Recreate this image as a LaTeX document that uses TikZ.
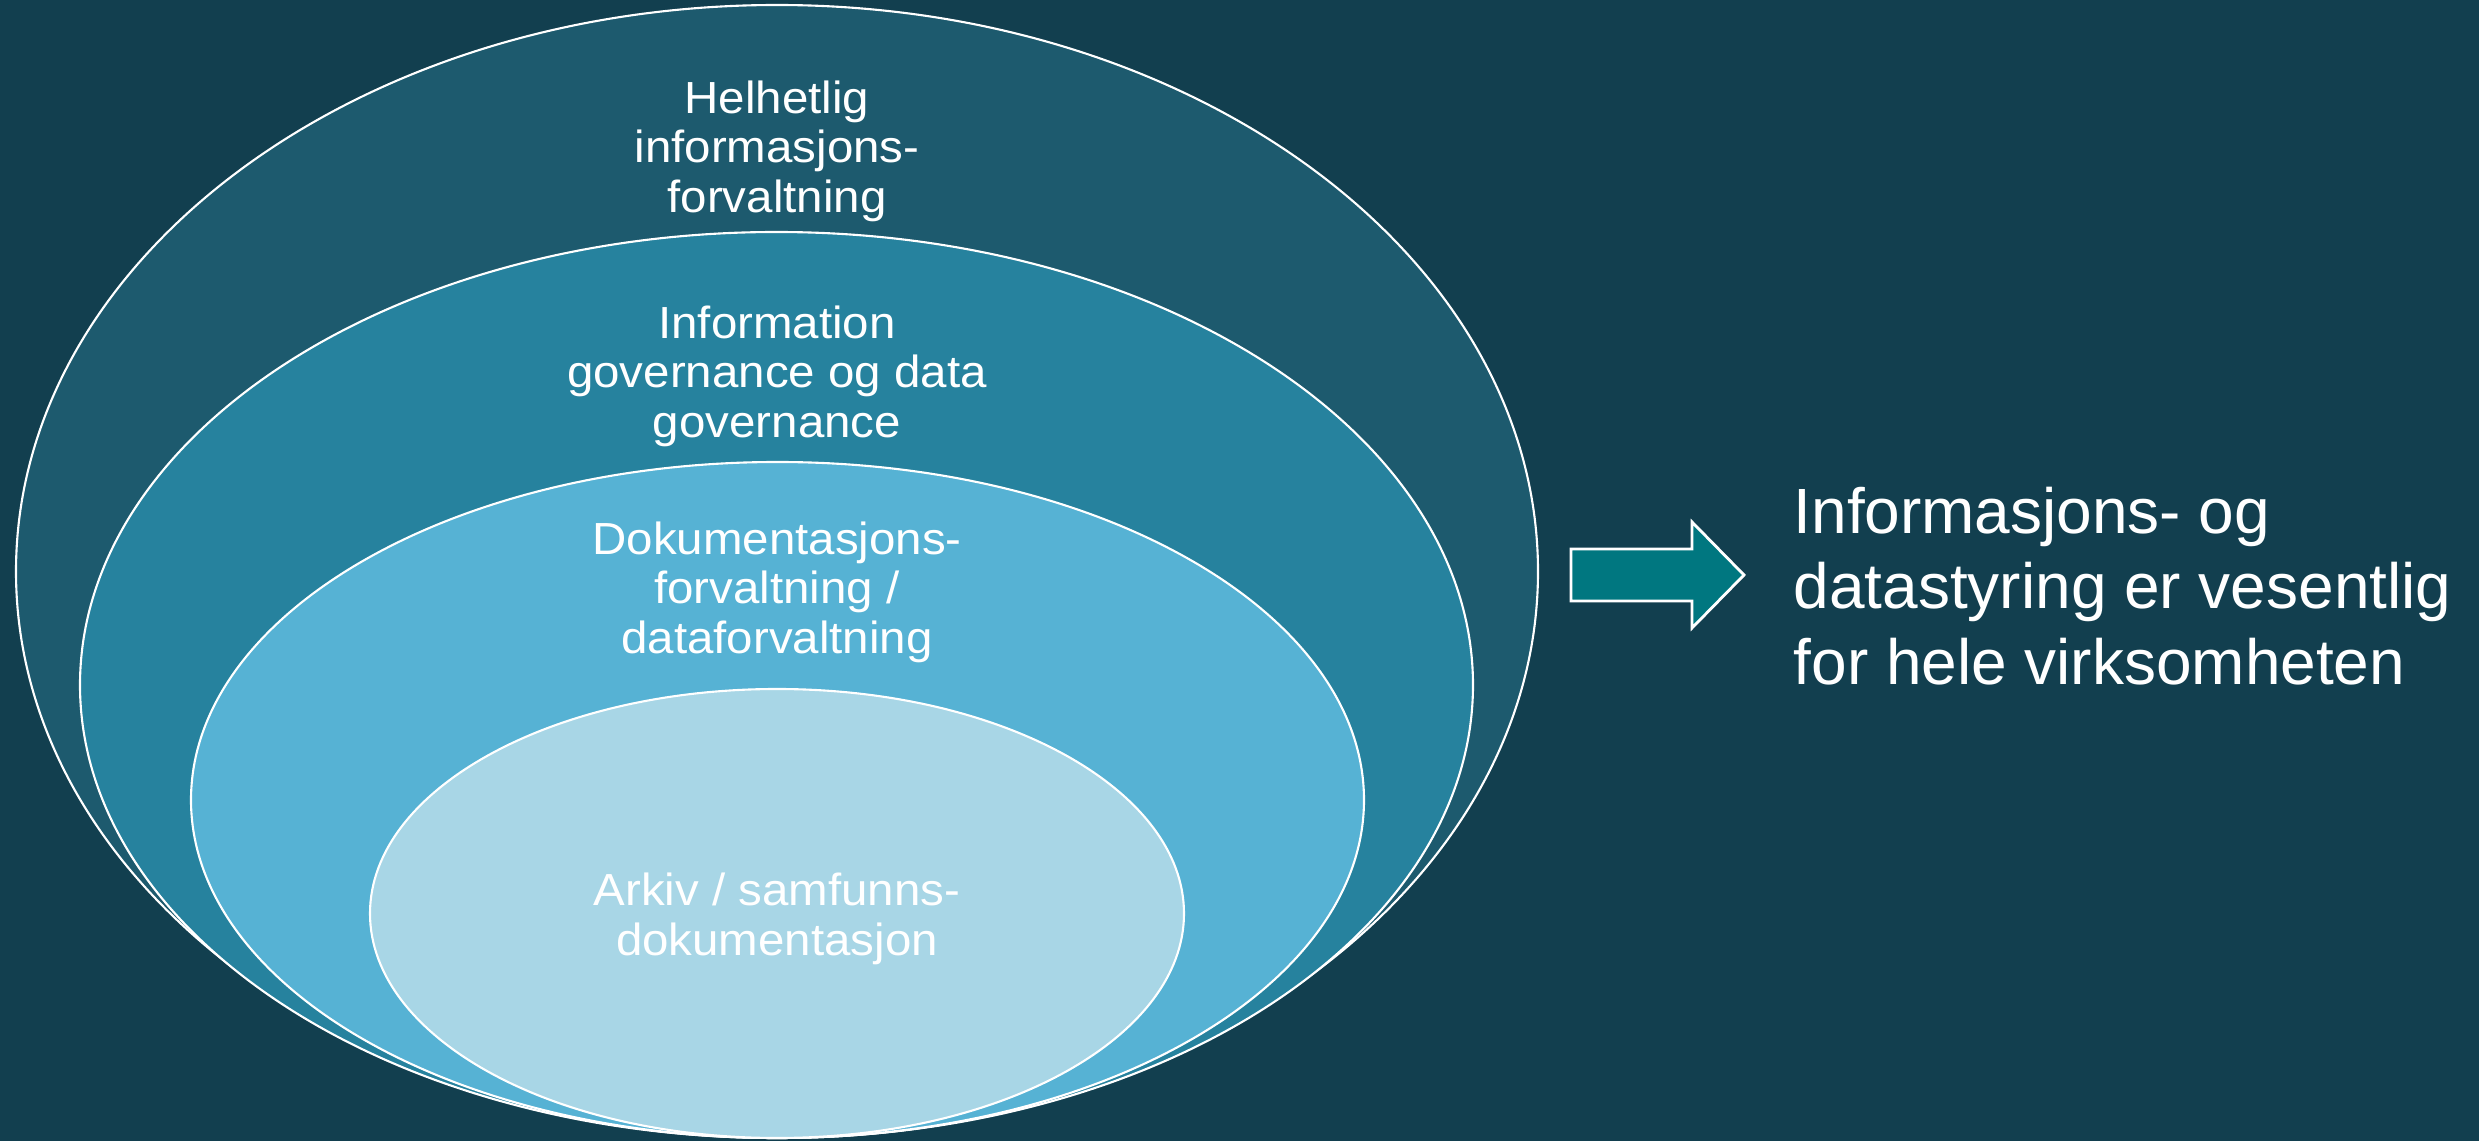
\documentclass[tikz,border=0pt]{standalone}
\usepackage{fontspec}
\setmainfont{Liberation Sans}
\newfontfamily\etikettfont[FakeStretch=1.055]{Liberation Sans}
\usetikzlibrary{shapes.geometric}
\usetikzlibrary{positioning}

\definecolor{bakgrunn}{RGB}{18,63,79}
\definecolor{lagEn}{RGB}{29,90,110}
\definecolor{lagTo}{RGB}{38,130,158}
\definecolor{lagTre}{RGB}{86,178,212}
\definecolor{lagFire}{RGB}{168,214,230}
\definecolor{pilfarge}{RGB}{0,119,128}

\begin{document}
\begin{tikzpicture}[
      lag/.style={ellipse, draw=white, line width=0.6pt, inner sep=0pt},
      etikett/.style={text=white, align=center, inner sep=0pt, font=\etikettfont\fontsize{12.8}{14.1}\selectfont},
      pil/.style={fill=pilfarge, draw=white, line width=0.8pt, line join=miter}
    ]
    \useasboundingbox[fill=bakgrunn] (0,0) rectangle (24.79,-11.41);

    % Ellipsene, fra ytterst til innerst
    \node[lag, fill=lagEn, minimum width=15.22cm, minimum height=11.33cm] (helhet) at (7.77,-5.715) {};
    \node[lag, fill=lagTo, minimum width=13.93cm, minimum height=9.06cm] (infogov) at (7.765,-6.85) {};
    \node[lag, fill=lagTre, minimum width=11.73cm, minimum height=6.76cm] (dokforv) at (7.775,-8.0) {};
    \node[lag, fill=lagFire, minimum width=8.14cm, minimum height=4.49cm] (arkiv) at (7.77,-9.135) {};

    % Tekst i ellipsene
    \node[etikett] (helhetTekst) at (7.77,-1.51) {Helhetlig\\informasjons-\\forvaltning};
    \node[etikett] (infogovTekst) at (7.77,-3.76) {Information\\governance og data\\governance};
    \node[etikett] (dokforvTekst) at (7.77,-5.92) {Dokumentasjons-\\forvaltning /\\dataforvaltning};
    \node[etikett] (arkivTekst) at (7.77,-9.19) {Arkiv / samfunns-\\dokumentasjon};

    % Blokkpil og konklusjon
    \coordinate (pilStart) at (15.71,-5.75);
    \draw[pil] (pilStart) ++(0,0.26) -- ++(1.21,0) -- ++(0,0.27) -- ++(0.52,-0.53)
      -- ++(-0.52,-0.53) -- ++(0,0.27) -- ++(-1.21,0) -- cycle;

    \node[text=white, align=left, anchor=west, inner sep=0pt,
      font=\fontsize{18.2}{21.5}\selectfont] (konklusjon) at (17.93,-5.86)
      {Informasjons- og\\datastyring er vesentlig\\for hele virksomheten};

  \end{tikzpicture}
\end{document}
